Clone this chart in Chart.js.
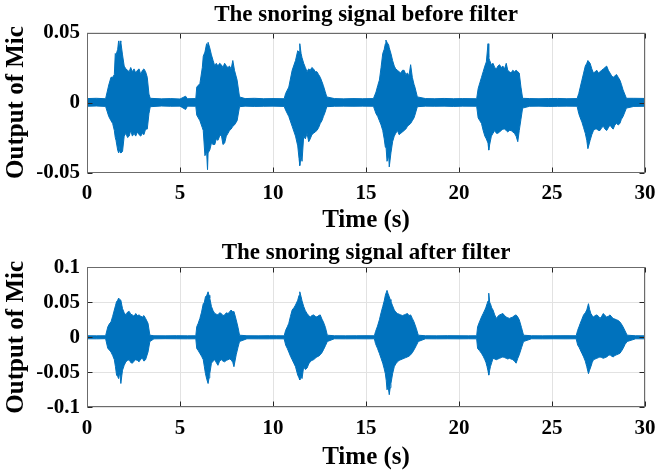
<!DOCTYPE html>
<html>
<head>
<meta charset="utf-8">
<script src="https://cdn.jsdelivr.net/npm/chart.js@4.4.1/dist/chart.umd.min.js"></script>
<style>
  html, body { margin: 0; padding: 0; background: #fff; }
  .panel { position: absolute; left: 0; width: 664px; height: 237px; }
</style>
</head>
<body>
<div class="panel" style="top:0"><canvas id="beforeChart" width="664" height="237"></canvas></div>
<div class="panel" style="top:237px"><canvas id="afterChart" width="664" height="237"></canvas></div>
<script>
// time axis, shared by both panels
const timeTicks = [0, 5, 10, 15, 20, 25, 30];
const beforeTicks = [-0.05, 0, 0.05];
const afterTicks = [-0.1, -0.05, 0, 0.05, 0.1];

// envelope of the raw mic signal: [time (s), upper, lower]
const beforeSamples = [
  [0.00, 0.0028, -0.0027], [0.50, 0.0030, -0.0025], [1.00, 0.0027, -0.0028],
  [1.17, 0.0125, -0.010], [1.29, 0.018, -0.013], [1.38, 0.018, -0.015], [1.47, 0.020, -0.020],
  [1.52, 0.035, -0.025], [1.56, 0.034, -0.027], [1.65, 0.038, -0.034], [1.70, 0.044, -0.036],
  [1.74, 0.038, -0.035], [1.78, 0.044, -0.030], [1.82, 0.043, -0.036], [1.91, 0.034, -0.035],
  [2.00, 0.026, -0.024], [2.09, 0.024, -0.022], [2.18, 0.023, -0.025], [2.27, 0.022, -0.024],
  [2.35, 0.025, -0.020], [2.44, 0.022, -0.024], [2.53, 0.024, -0.022], [2.62, 0.021, -0.024],
  [2.71, 0.023, -0.021], [2.80, 0.024, -0.023], [2.89, 0.020, -0.024], [2.98, 0.023, -0.022],
  [3.06, 0.024, -0.023], [3.15, 0.022, -0.019], [3.24, 0.018, -0.019], [3.33, 0.006, -0.008],
  [3.40, 0.003, -0.003],
  [4.00, 0.0026, -0.0025], [4.50, 0.0028, -0.0027], [5.00, 0.0025, -0.0026], [5.30, 0.0045, -0.0050],
  [5.40, 0.0027, -0.0026], [5.85, 0.0028, -0.0027],
  [5.90, 0.011, -0.009], [6.07, 0.0135, -0.013], [6.20, 0.025, -0.018], [6.25, 0.033, -0.020],
  [6.34, 0.036, -0.038], [6.43, 0.042, -0.035], [6.48, 0.040, -0.048], [6.51, 0.043, -0.036],
  [6.60, 0.039, -0.034], [6.69, 0.034, -0.029], [6.78, 0.030, -0.030], [6.87, 0.026, -0.030],
  [6.95, 0.028, -0.026], [7.04, 0.026, -0.027], [7.13, 0.028, -0.024], [7.22, 0.027, -0.023],
  [7.31, 0.025, -0.030], [7.40, 0.028, -0.029], [7.49, 0.026, -0.024], [7.58, 0.025, -0.022],
  [7.66, 0.026, -0.020], [7.75, 0.024, -0.019], [7.84, 0.030, -0.017], [7.93, 0.023, -0.016],
  [8.07, 0.016, -0.013], [8.20, 0.004, -0.003],
  [8.50, 0.0028, -0.0026], [9.00, 0.0030, -0.0028], [9.50, 0.0027, -0.0027], [10.00, 0.0028, -0.0026],
  [10.60, 0.0027, -0.0028],
  [10.68, 0.0065, -0.0055], [10.85, 0.011, -0.010], [11.03, 0.023, -0.017], [11.21, 0.030, -0.024],
  [11.33, 0.037, -0.031], [11.40, 0.036, -0.040], [11.44, 0.042, -0.045], [11.51, 0.035, -0.038],
  [11.56, 0.032, -0.042], [11.65, 0.028, -0.024], [11.74, 0.025, -0.026], [11.83, 0.022, -0.022],
  [11.92, 0.024, -0.028], [12.00, 0.023, -0.026], [12.09, 0.025, -0.023], [12.18, 0.024, -0.022],
  [12.27, 0.022, -0.021], [12.36, 0.022, -0.020], [12.45, 0.020, -0.018], [12.54, 0.018, -0.015],
  [12.63, 0.015, -0.013], [12.71, 0.012, -0.010], [12.80, 0.008, -0.007], [12.89, 0.004, -0.003],
  [13.30, 0.0028, -0.0027], [13.80, 0.0026, -0.0026], [14.30, 0.0028, -0.0027], [14.80, 0.0027, -0.0026],
  [15.40, 0.0028, -0.0027],
  [15.54, 0.0075, -0.008], [15.63, 0.012, -0.010], [15.72, 0.016, -0.013], [15.81, 0.025, -0.016],
  [15.90, 0.035, -0.020], [15.98, 0.038, -0.026], [16.04, 0.042, -0.032], [16.07, 0.0446, -0.030],
  [16.13, 0.043, -0.042], [16.22, 0.041, -0.038], [16.25, 0.039, -0.046], [16.34, 0.035, -0.036],
  [16.43, 0.030, -0.028], [16.52, 0.026, -0.024], [16.60, 0.024, -0.022], [16.69, 0.023, -0.020],
  [16.78, 0.022, -0.023], [16.87, 0.021, -0.022], [16.96, 0.023, -0.021], [17.05, 0.023, -0.020],
  [17.14, 0.020, -0.019], [17.23, 0.021, -0.017], [17.31, 0.019, -0.016], [17.40, 0.027, -0.015],
  [17.49, 0.018, -0.013], [17.58, 0.013, -0.011], [17.63, 0.011, -0.009], [17.76, 0.004, -0.003],
  [18.20, 0.0028, -0.0026], [18.70, 0.0027, -0.0027], [19.20, 0.0029, -0.0026], [19.70, 0.0027, -0.0028],
  [20.20, 0.0028, -0.0026], [20.95, 0.0027, -0.0027],
  [21.03, 0.010, -0.011], [21.12, 0.014, -0.013], [21.21, 0.018, -0.015], [21.30, 0.022, -0.020],
  [21.39, 0.026, -0.024], [21.47, 0.029, -0.026], [21.56, 0.042, -0.029], [21.60, 0.032, -0.034],
  [21.65, 0.030, -0.030], [21.74, 0.027, -0.024], [21.83, 0.028, -0.022], [21.92, 0.025, -0.020],
  [22.01, 0.024, -0.022], [22.09, 0.026, -0.022], [22.18, 0.027, -0.021], [22.27, 0.025, -0.020],
  [22.36, 0.026, -0.019], [22.45, 0.024, -0.019], [22.54, 0.028, -0.020], [22.62, 0.023, -0.021],
  [22.71, 0.022, -0.020], [22.80, 0.021, -0.020], [22.89, 0.023, -0.021], [22.98, 0.022, -0.022],
  [23.07, 0.023, -0.024], [23.16, 0.022, -0.028], [23.24, 0.021, -0.020], [23.33, 0.011, -0.012],
  [23.42, 0.003, -0.004],
  [23.80, 0.0028, -0.0027], [24.30, 0.0027, -0.0026], [24.80, 0.0028, -0.0028], [25.30, 0.0029, -0.0027],
  [25.80, 0.0027, -0.0026], [26.35, 0.0028, -0.0027],
  [26.44, 0.0065, -0.008], [26.52, 0.011, -0.011], [26.61, 0.016, -0.014], [26.70, 0.021, -0.018],
  [26.79, 0.026, -0.022], [26.87, 0.028, -0.027], [26.93, 0.030, -0.033], [27.05, 0.028, -0.027],
  [27.14, 0.024, -0.023], [27.23, 0.021, -0.020], [27.32, 0.022, -0.019], [27.41, 0.023, -0.019],
  [27.50, 0.021, -0.020], [27.58, 0.022, -0.020], [27.67, 0.023, -0.018], [27.76, 0.024, -0.017],
  [27.85, 0.025, -0.019], [27.94, 0.026, -0.020], [28.03, 0.023, -0.018], [28.12, 0.021, -0.016],
  [28.21, 0.019, -0.018], [28.29, 0.018, -0.019], [28.38, 0.019, -0.016], [28.47, 0.020, -0.015],
  [28.56, 0.018, -0.016], [28.65, 0.016, -0.015], [28.73, 0.013, -0.012], [28.82, 0.009, -0.010],
  [29.00, 0.003, -0.004],
  [29.40, 0.0030, -0.0028], [30.00, 0.0029, -0.0027]
];

// envelope of the filtered signal: [time (s), upper, lower]
const afterSamples = [
  [0.00, 0.0022, -0.0021], [0.50, 0.0021, -0.0022], [1.00, 0.0022, -0.0020],
  [1.12, 0.015, -0.016], [1.20, 0.019, -0.018], [1.29, 0.022, -0.021], [1.38, 0.030, -0.026],
  [1.47, 0.039, -0.032], [1.53, 0.045, -0.042], [1.59, 0.051, -0.054], [1.65, 0.053, -0.056],
  [1.70, 0.056, -0.059], [1.76, 0.054, -0.050], [1.82, 0.053, -0.066], [1.87, 0.046, -0.055],
  [1.91, 0.041, -0.047], [2.00, 0.035, -0.040], [2.09, 0.032, -0.035], [2.18, 0.036, -0.033],
  [2.27, 0.037, -0.032], [2.35, 0.033, -0.036], [2.44, 0.032, -0.037], [2.53, 0.030, -0.034],
  [2.62, 0.034, -0.032], [2.71, 0.031, -0.033], [2.80, 0.032, -0.035], [2.89, 0.030, -0.031],
  [2.98, 0.029, -0.030], [3.06, 0.031, -0.034], [3.15, 0.027, -0.032], [3.28, 0.020, -0.021],
  [3.38, 0.003, -0.006],
  [3.60, 0.0022, -0.0022], [4.20, 0.0021, -0.0020], [4.80, 0.0023, -0.0021], [5.40, 0.0021, -0.0022],
  [5.85, 0.0022, -0.0021],
  [5.90, 0.015, -0.016], [5.98, 0.020, -0.019], [6.07, 0.027, -0.023], [6.16, 0.036, -0.027],
  [6.25, 0.048, -0.032], [6.31, 0.050, -0.042], [6.37, 0.058, -0.052], [6.44, 0.060, -0.060],
  [6.51, 0.065, -0.066], [6.56, 0.060, -0.058], [6.60, 0.056, -0.052], [6.69, 0.044, -0.037],
  [6.78, 0.038, -0.034], [6.87, 0.034, -0.032], [6.95, 0.033, -0.036], [7.04, 0.032, -0.040],
  [7.13, 0.035, -0.034], [7.22, 0.034, -0.032], [7.31, 0.031, -0.034], [7.40, 0.032, -0.035],
  [7.49, 0.035, -0.033], [7.58, 0.034, -0.032], [7.66, 0.036, -0.031], [7.75, 0.039, -0.032],
  [7.84, 0.036, -0.036], [7.90, 0.037, -0.042], [8.02, 0.025, -0.025], [8.12, 0.014, -0.014],
  [8.20, 0.003, -0.006],
  [8.60, 0.0022, -0.0021], [9.20, 0.0021, -0.0022], [9.80, 0.0023, -0.0022], [10.20, 0.0022, -0.0021],
  [10.60, 0.0021, -0.0022],
  [10.68, 0.010, -0.011], [10.77, 0.015, -0.016], [10.85, 0.020, -0.021], [10.94, 0.030, -0.027],
  [11.03, 0.039, -0.032], [11.12, 0.042, -0.037], [11.21, 0.046, -0.042], [11.33, 0.053, -0.054],
  [11.40, 0.060, -0.058], [11.44, 0.065, -0.061], [11.51, 0.058, -0.055], [11.56, 0.052, -0.059],
  [11.65, 0.044, -0.042], [11.74, 0.038, -0.046], [11.83, 0.034, -0.044], [11.92, 0.031, -0.038],
  [12.00, 0.029, -0.035], [12.09, 0.031, -0.033], [12.18, 0.032, -0.032], [12.27, 0.030, -0.030],
  [12.36, 0.029, -0.028], [12.45, 0.031, -0.027], [12.54, 0.032, -0.025], [12.63, 0.026, -0.022],
  [12.71, 0.022, -0.018], [12.82, 0.014, -0.012], [12.92, 0.003, -0.006],
  [13.30, 0.0022, -0.0021], [13.90, 0.0021, -0.0022], [14.50, 0.0022, -0.0021], [15.00, 0.0023, -0.0022],
  [15.45, 0.0022, -0.0021],
  [15.51, 0.008, -0.009], [15.62, 0.016, -0.016], [15.72, 0.025, -0.023], [15.81, 0.035, -0.030],
  [15.90, 0.044, -0.037], [15.98, 0.052, -0.045], [16.04, 0.060, -0.052], [16.09, 0.064, -0.062],
  [16.13, 0.067, -0.075], [16.19, 0.062, -0.070], [16.25, 0.058, -0.082], [16.30, 0.054, -0.072],
  [16.34, 0.051, -0.066], [16.43, 0.045, -0.052], [16.52, 0.039, -0.042], [16.60, 0.036, -0.038],
  [16.69, 0.034, -0.035], [16.78, 0.033, -0.033], [16.87, 0.032, -0.032], [16.96, 0.031, -0.031],
  [17.05, 0.032, -0.030], [17.14, 0.033, -0.029], [17.23, 0.034, -0.028], [17.31, 0.031, -0.027],
  [17.40, 0.032, -0.025], [17.49, 0.027, -0.022], [17.58, 0.022, -0.018], [17.70, 0.013, -0.012],
  [17.81, 0.003, -0.006],
  [18.20, 0.0022, -0.0021], [18.80, 0.0021, -0.0022], [19.40, 0.0023, -0.0021], [20.00, 0.0022, -0.0022],
  [20.50, 0.0021, -0.0021], [20.95, 0.0022, -0.0022],
  [21.00, 0.015, -0.016], [21.10, 0.022, -0.019], [21.21, 0.029, -0.023], [21.30, 0.034, -0.027],
  [21.39, 0.039, -0.032], [21.45, 0.043, -0.036], [21.51, 0.048, -0.042], [21.56, 0.052, -0.048],
  [21.60, 0.063, -0.054], [21.65, 0.050, -0.047], [21.69, 0.048, -0.042], [21.76, 0.042, -0.036],
  [21.83, 0.039, -0.030], [21.92, 0.032, -0.031], [22.01, 0.027, -0.032], [22.09, 0.030, -0.031],
  [22.18, 0.032, -0.030], [22.27, 0.033, -0.029], [22.36, 0.034, -0.028], [22.45, 0.031, -0.029],
  [22.54, 0.029, -0.030], [22.62, 0.028, -0.031], [22.71, 0.027, -0.030], [22.80, 0.028, -0.031],
  [22.89, 0.029, -0.032], [22.98, 0.031, -0.034], [23.07, 0.032, -0.037], [23.16, 0.029, -0.030],
  [23.24, 0.025, -0.025], [23.36, 0.014, -0.015], [23.47, 0.003, -0.006],
  [23.90, 0.0022, -0.0021], [24.50, 0.0021, -0.0022], [25.10, 0.0022, -0.0021], [25.70, 0.0023, -0.0022],
  [26.30, 0.0022, -0.0021],
  [26.38, 0.010, -0.011], [26.45, 0.015, -0.014], [26.52, 0.020, -0.018], [26.61, 0.026, -0.023],
  [26.70, 0.032, -0.028], [26.79, 0.035, -0.034], [26.87, 0.039, -0.042], [26.96, 0.048, -0.052],
  [27.02, 0.040, -0.047], [27.09, 0.034, -0.042], [27.16, 0.031, -0.036], [27.23, 0.029, -0.032],
  [27.32, 0.031, -0.031], [27.41, 0.032, -0.030], [27.50, 0.030, -0.029], [27.58, 0.027, -0.028],
  [27.67, 0.030, -0.029], [27.76, 0.034, -0.030], [27.85, 0.031, -0.029], [27.94, 0.029, -0.028],
  [28.03, 0.030, -0.026], [28.12, 0.032, -0.025], [28.21, 0.029, -0.027], [28.29, 0.027, -0.028],
  [28.38, 0.026, -0.026], [28.47, 0.025, -0.025], [28.56, 0.024, -0.024], [28.65, 0.022, -0.023],
  [28.73, 0.019, -0.020], [28.82, 0.015, -0.016], [28.93, 0.009, -0.010], [29.04, 0.003, -0.006],
  [29.50, 0.0022, -0.0021], [30.00, 0.0021, -0.0022]
];

const SIGNAL_BLUE = '#0072BD';
const SERIF = '"Liberation Serif", "Times New Roman", serif';

Chart.defaults.font.family = SERIF;
Chart.defaults.font.weight = 'bold';
Chart.defaults.color = '#000';

// matlab style box with inward tick marks
const axesBox = {
  id: 'axesBox',
  afterDatasetsDraw(chart) {
    const {ctx, chartArea: a, scales} = chart;
    const L = Math.round(a.left) + 0.5, R = Math.round(a.right) - 0.5;
    const T = Math.round(a.top) + 0.5, B = Math.round(a.bottom) - 0.5;
    ctx.save();
    ctx.strokeStyle = '#262626';
    ctx.lineWidth = 1;
    ctx.beginPath();
    scales.x.ticks.forEach(t => {
      const px = Math.round(scales.x.getPixelForValue(t.value)) + 0.5;
      ctx.moveTo(px, B); ctx.lineTo(px, B - 5);
      ctx.moveTo(px, T); ctx.lineTo(px, T + 5);
    });
    scales.y.ticks.forEach(t => {
      const py = Math.round(scales.y.getPixelForValue(t.value)) + 0.5;
      ctx.moveTo(L, py); ctx.lineTo(L + 5, py);
      ctx.moveTo(R, py); ctx.lineTo(R - 5, py);
    });
    ctx.stroke();
    ctx.strokeStyle = '#6b6b6b';
    ctx.strokeRect(L, T, R - L, B - T);
    ctx.restore();
  }
};

function makePanel(id, title, rows, yTicks, plotTop, plotBottom, titlePad) {
  return new Chart(document.getElementById(id), {
    type: 'line',
    data: {
      datasets: [{
        data: rows.map(r => ({x: r[0], y: r[1]})),
        borderColor: SIGNAL_BLUE,
        backgroundColor: SIGNAL_BLUE,
        borderWidth: 1,
        pointRadius: 0,
        tension: 0,
        fill: '+1'
      }, {
        data: rows.map(r => ({x: r[0], y: r[2]})),
        borderColor: SIGNAL_BLUE,
        borderWidth: 1,
        pointRadius: 0,
        tension: 0,
        fill: false
      }]
    },
    options: {
      responsive: false,
      animation: false,
      devicePixelRatio: 1,
      layout: {padding: {left: 0, right: 12, top: 0, bottom: 0}},
      plugins: {
        legend: {display: false},
        tooltip: {enabled: false},
        title: {
          display: true,
          text: title,
          fullSize: false,
          color: '#000',
          font: {size: 23, weight: 'bold'},
          padding: {top: titlePad, bottom: plotTop - 27.6 - titlePad}
        }
      },
      scales: {
        x: {
          type: 'linear',
          min: 0, max: 30,
          afterBuildTicks: s => { s.ticks = timeTicks.map(v => ({value: v})); },
          afterFit: s => { s.height = 237 - plotBottom; },
          border: {display: false},
          grid: {color: '#e2e2e2', drawTicks: false},
          ticks: {padding: 8.5, autoSkip: false, maxRotation: 0, font: {size: 21}, callback: v => String(v)},
          title: {display: true, text: 'Time (s)', font: {size: 25, weight: 'bold'}, padding: {top: 0, bottom: 1}}
        },
        y: {
          min: yTicks[0], max: yTicks[yTicks.length - 1],
          afterBuildTicks: s => { s.ticks = yTicks.map(v => ({value: v})); },
          afterFit: s => { s.width = 87; },
          border: {display: false},
          grid: {color: '#e2e2e2', drawTicks: false},
          ticks: {padding: 7, autoSkip: false, font: {size: 21}, callback: v => String(v)},
          title: {display: true, text: 'Output of Mic', font: {size: 25, weight: 'bold'}, padding: {top: 1.5, bottom: 0}}
        }
      }
    },
    plugins: [axesBox]
  });
}

makePanel('beforeChart', 'The snoring signal before filter', beforeSamples, beforeTicks, 32.5, 172.5, 0.8);
makePanel('afterChart', 'The snoring signal after filter', afterSamples, afterTicks, 30.3, 170.3, 2.2);
</script>
</body>
</html>
